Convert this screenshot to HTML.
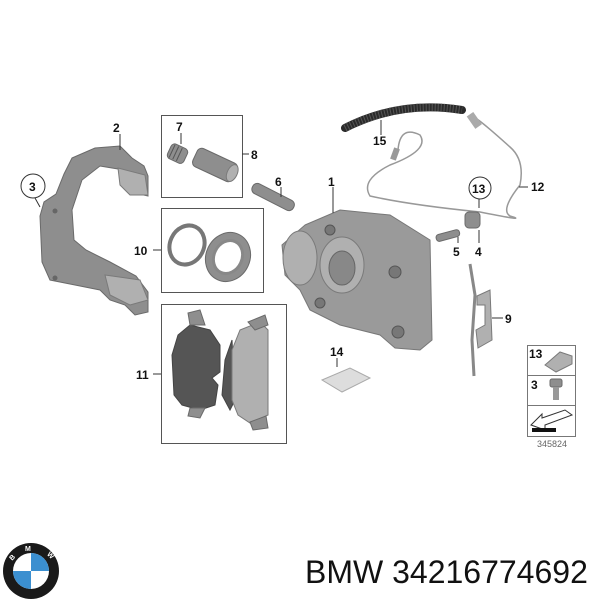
<!DOCTYPE html>
<html><head><meta charset="utf-8"><style>
html,body{margin:0;padding:0;background:#fff;}
svg{display:block;}
text{font-family:"Liberation Sans",Arial,sans-serif;}
.l{font-weight:bold;font-size:12px;fill:#111;}
.ln{stroke:#333;stroke-width:1;fill:none;}
.g{fill:#8e8e8e;stroke:#6a6a6a;stroke-width:1;}
.gc{fill:#9a9a9a;stroke:#777;stroke-width:1;}
.gl{fill:#b0b0b0;stroke:#7a7a7a;stroke-width:1;}
.gd{fill:#555;stroke:#444;stroke-width:1;}
</style></head><body>
<svg width="600" height="600" viewBox="0 0 600 600" xmlns="http://www.w3.org/2000/svg">
<rect x="161.5" y="115.5" width="81" height="82" fill="none" stroke="#555"/>
<rect x="161.5" y="208.5" width="102" height="84" fill="none" stroke="#555"/>
<rect x="161.5" y="304.5" width="125" height="139" fill="none" stroke="#555"/>

<!-- part 2/3 carrier -->
<path class="g" d="M72 158 L95 148 L120 146 L132 158 L144 166 L148 176 L148 196 L130 192 L124 170 L100 166 L82 180 L72 210 L74 240 L86 250 L110 262 L136 276 L148 292 L148 312 L135 315 L125 305 L110 300 L100 290 L75 285 L50 280 L42 262 L40 216 L44 202 L56 194 L64 174 Z"/>
<path class="gl" d="M118 168 L145 175 L148 195 L130 195 L120 185 Z"/>
<path class="gl" d="M105 275 L140 280 L148 300 L130 305 L110 295 Z"/>
<circle cx="55" cy="211" r="2.5" fill="#666"/><circle cx="55" cy="278" r="2.5" fill="#666"/>

<g transform="rotate(25 178 155)"><rect x="168" y="146" width="18" height="16" rx="4" class="g"/>
<line x1="171" y1="147" x2="171" y2="161" stroke="#555"/><line x1="175" y1="147" x2="175" y2="161" stroke="#555"/><line x1="179" y1="147" x2="179" y2="161" stroke="#555"/></g>
<g transform="rotate(25 215 165)"><rect x="193" y="155" width="44" height="20" rx="5" class="g"/><ellipse cx="234" cy="165" rx="5" ry="9" class="gl"/></g>
<g transform="rotate(27 272 197)"><rect x="250" y="191" width="46" height="11" rx="5" class="g"/></g>
<ellipse cx="187" cy="245" rx="17" ry="20" fill="none" stroke="#777" stroke-width="4" transform="rotate(25 187 245)"/>
<ellipse cx="228" cy="257" rx="22" ry="25" class="g" transform="rotate(25 228 257)"/>
<ellipse cx="228" cy="257" rx="14" ry="17" fill="#fff" stroke="#888" stroke-width="3" transform="rotate(25 228 257)"/>
<path class="gd" d="M190 325 L210 330 L220 345 L220 372 L212 378 L218 385 L215 405 L200 410 L182 405 L174 395 L172 355 L178 335 Z"/>
<path class="g" d="M188 313 L200 310 L205 325 L190 325 Z"/>
<path class="g" d="M190 408 L205 408 L200 418 L188 416 Z"/>
<path class="gd" d="M232 340 L225 360 L222 395 L230 410 L235 400 Z"/>
<path class="gl" d="M240 330 L260 322 L268 330 L268 415 L250 423 L238 415 L232 400 L232 350 Z"/>
<path class="g" d="M248 322 L265 315 L268 325 L255 330 Z"/>
<path class="g" d="M250 422 L266 416 L268 428 L253 430 Z"/>

<!-- 1 caliper -->
<path class="gc" d="M305 225 L340 210 L390 215 L430 240 L432 340 L420 350 L395 348 L380 335 L340 325 L310 310 L300 290 L285 275 L282 245 Z"/>
<ellipse cx="300" cy="258" rx="17" ry="27" class="gl"/>
<ellipse cx="342" cy="265" rx="22" ry="28" class="gl"/>
<ellipse cx="342" cy="268" rx="13" ry="17" fill="#888" stroke="#666"/>
<circle cx="395" cy="272" r="6" fill="#777" stroke="#555"/><circle cx="398" cy="332" r="6" fill="#777" stroke="#555"/><circle cx="330" cy="230" r="5" fill="#777" stroke="#555"/><circle cx="320" cy="303" r="5" fill="#777" stroke="#555"/>
<path d="M345 128 Q400 100 462 110" stroke="#2a2a2a" stroke-width="8" fill="none" stroke-linecap="round"/>
<path d="M345 128 Q400 100 462 110" stroke="#555" stroke-width="8" fill="none" stroke-dasharray="1 2"/>
<path d="M398 150 Q400 125 420 135 Q430 150 390 165 Q360 180 370 196 Q410 205 480 212 Q530 222 510 216 Q500 210 520 185 Q525 160 510 147 Q480 120 475 118" stroke="#999" stroke-width="1.5" fill="none"/>
<rect x="392" y="148" width="6" height="12" fill="#999" transform="rotate(20 395 154)"/>
<rect x="470" y="113" width="8" height="15" fill="#aaa" transform="rotate(-35 474 120)"/>
<rect x="465" y="212" width="15" height="16" rx="4" class="g"/>
<g transform="rotate(-15 448 236)"><rect x="436" y="232" width="24" height="7" rx="3" class="g"/></g>
<path d="M470 264 L475 295 L472 340 L474 376" stroke="#888" stroke-width="3" fill="none"/>
<path class="gl" d="M477 296 L490 290 L492 340 L478 348 L476 330 L485 325 L485 305 L477 305 Z"/>
<path d="M322 380 L350 368 L370 378 L342 392 Z" fill="#ddd" stroke="#aaa"/>

<g class="ln">
<line x1="120" y1="134" x2="120" y2="150"/>
<line x1="35" y1="198" x2="40" y2="207"/>
<line x1="181" y1="133" x2="181" y2="144"/>
<line x1="242" y1="154" x2="249" y2="154"/>
<line x1="281" y1="187" x2="281" y2="197"/>
<line x1="153" y1="250" x2="161" y2="250"/>
<line x1="153" y1="374" x2="161" y2="374"/>
<line x1="333" y1="187" x2="333" y2="213"/>
<line x1="381" y1="120" x2="381" y2="135"/>
<line x1="519" y1="187" x2="528" y2="187"/>
<line x1="479" y1="197" x2="479" y2="208"/>
<line x1="479" y1="230" x2="479" y2="243"/>
<line x1="458" y1="237" x2="458" y2="243"/>
<line x1="492" y1="318" x2="503" y2="318"/>
<line x1="337" y1="358" x2="337" y2="367"/>
</g>
<circle cx="33" cy="186" r="12" fill="#fff" stroke="#333"/>
<circle cx="480" cy="188" r="11" fill="#fff" stroke="#333"/>
<text class="l" x="113" y="132">2</text>
<text class="l" x="29" y="191">3</text>
<text class="l" x="176" y="131">7</text>
<text class="l" x="251" y="159">8</text>
<text class="l" x="275" y="186">6</text>
<text class="l" x="134" y="255">10</text>
<text class="l" x="136" y="379">11</text>
<text class="l" x="328" y="186">1</text>
<text class="l" x="373" y="145">15</text>
<text class="l" x="472" y="193">13</text>
<text class="l" x="531" y="191">12</text>
<text class="l" x="453" y="256">5</text>
<text class="l" x="475" y="256">4</text>
<text class="l" x="505" y="323">9</text>
<text class="l" x="330" y="356">14</text>

<rect x="527.5" y="345.5" width="48" height="91" fill="none" stroke="#777"/>
<line x1="527" y1="375.5" x2="576" y2="375.5" stroke="#777"/>
<line x1="527" y1="405.5" x2="576" y2="405.5" stroke="#777"/>
<text class="l" x="529" y="358">13</text>
<path class="gl" d="M545 365 L560 352 L572 356 L572 364 L556 372 Z"/>
<text class="l" x="531" y="389">3</text>
<rect x="550" y="379" width="12" height="8" rx="2" class="g"/><rect x="553" y="387" width="6" height="13" fill="#999"/>
<path d="M531 425 L542 414 L542 418 L565 410 L572 415 L545 425 L545 430 Z" fill="#fff" stroke="#333"/>
<rect x="532" y="428" width="24" height="4" fill="#111"/>
<text x="537" y="447" font-size="9" fill="#666">345824</text>

<circle cx="31" cy="571" r="28" fill="#1a1a1a"/>
<circle cx="31" cy="571" r="18" fill="#fff"/>
<path d="M31 571 L31 553 A18 18 0 0 1 49 571 Z" fill="#3b8fd0"/>
<path d="M31 571 L13 571 A18 18 0 0 0 31 589 Z" fill="#3b8fd0"/>
<text x="25" y="551" font-size="7" font-weight="bold" fill="#fff">M</text>
<text x="10" y="560" font-size="7" font-weight="bold" fill="#fff" transform="rotate(-45 12 558)">B</text>
<text x="46" y="556" font-size="7" font-weight="bold" fill="#fff" transform="rotate(45 48 556)">W</text>
<text x="305" y="583" font-size="32" fill="#111">BMW 34216774692</text>
</svg>
</body></html>
